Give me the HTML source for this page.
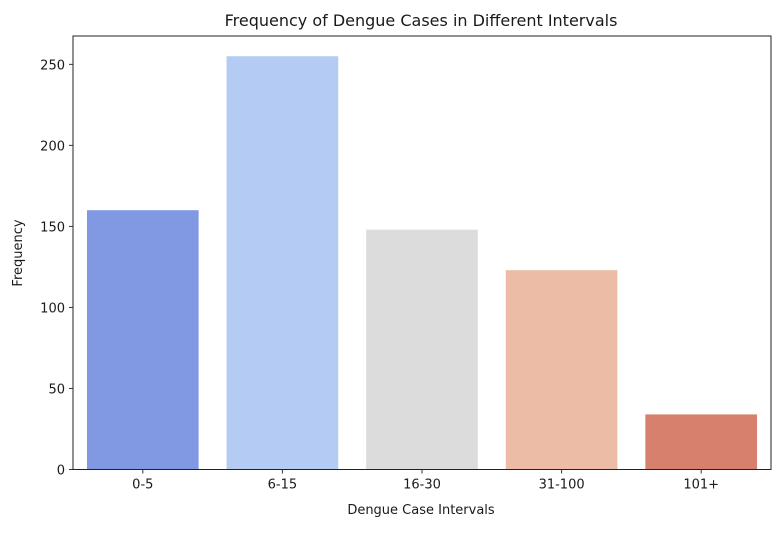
<!DOCTYPE html>
<html><head><meta charset="utf-8"><style>
body{margin:0;background:#fff}
svg text{font-family:"DejaVu Sans","Liberation Sans",sans-serif;fill:#1a1a1a}
</style></head><body>
<svg id="chart" width="778" height="528">
<text x="421" y="26" font-size="16" text-anchor="middle">Frequency of Dengue Cases in Different Intervals</text>
<text x="421" y="514" font-size="13" text-anchor="middle">Dengue Case Intervals</text>
<text transform="translate(22,253) rotate(-90)" font-size="13" text-anchor="middle">Frequency</text>
<g id="bars"></g>
<g id="axes"></g>
</svg>
<script>
const categories=["0-5","6-15","16-30","31-100","101+"];
const values=[160,255,148,123,34];
const colors=["#8199e3","#b4cbf4","#dcdcdc","#edbca7","#d6806d"];
const yTicks=[0,50,100,150,200,250];
const L=73,R=771,T=36,B=469.5,YMAX=267.5;
const x=i=>L+(R-L)/categories.length*i;
const y=v=>B-(B-T)*v/YMAX;
const ns="http://www.w3.org/2000/svg";
const bars=document.getElementById('bars'),axes=document.getElementById('axes');
function mk(t,a,p){const e=document.createElementNS(ns,t);for(const k in a)e.setAttribute(k,a[k]);p.appendChild(e);return e;}
const bw=(R-L)/categories.length;
values.forEach((v,i)=>{
  const r=mk('rect',{x:x(i)+bw*0.1,y:y(v),width:bw*0.8,height:B-y(v),fill:colors[i]},bars);
  
  
  const tk=mk('line',{x1:x(i)+bw/2,x2:x(i)+bw/2,y1:B,y2:B+4,stroke:'#333'},axes);
  const t=mk('text',{x:x(i)+bw/2,y:B+19,'font-size':13,'text-anchor':'middle'},axes);
  t.textContent=categories[i];
  
  
});
yTicks.forEach(v=>{
  mk('line',{x1:L-4,x2:L,y1:y(v),y2:y(v),stroke:'#333'},axes);
  const t=mk('text',{x:L-8,y:y(v)+5,'font-size':13,'text-anchor':'end'},axes);
  t.textContent=v;
  
  
});
const f=mk('rect',{x:L,y:T,width:R-L,height:B-T,fill:'none',stroke:'#222','stroke-width':1},axes);


</script>
</body></html>
